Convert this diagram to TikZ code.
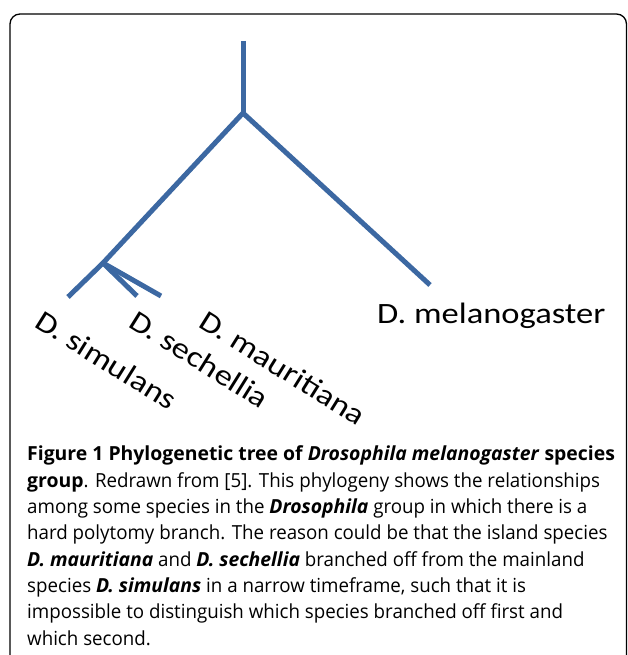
\documentclass[tikz,border=0pt]{standalone}
\usepackage{fontspec}
\setmainfont{Open Sans}[UprightFeatures={FakeStretch=0.965}]
\newfontfamily\labelfont[FakeStretch=1.17]{Carlito}
\usetikzlibrary{positioning}
\definecolor{treeblue}{RGB}{60,104,162}
\tikzset{
    branch/.style={line width=5pt, draw=treeblue},
    taxon/.style={font=\labelfont\fontsize{29.5}{29.5}\selectfont, inner sep=0pt, anchor=base west},
    taxonrot/.style={taxon, rotate=-32},
    panel/.style={draw=black, line width=1.3pt, rounded corners=10pt},
    caption/.style={font=\fontsize{19.4}{26.3}\selectfont, align=left, inner sep=0pt, anchor=base west}
}

\begin{document}
\begin{tikzpicture}[x=1pt, y=-1pt]
    \useasboundingbox (0,0) rectangle (627,655);
    \draw[panel] (10,670) -- (10,14) -- (626.5,14) -- (626.5,670);

    % Tree vertices
    \coordinate (top) at (243,41);
    \coordinate (root) at (243,113);
    \coordinate (simfork) at (103,263);
    \coordinate (simtip) at (68,297);
    \coordinate (sechtip) at (137,296);
    \coordinate (mautip) at (161,296);
    \coordinate (meltip) at (430,285);

    % Branches
    \draw[branch] (top) -- (root);
    \draw[branch] (root) -- (simfork) -- (simtip);
    \draw[branch] (root) -- (meltip);
    \draw[branch] (simfork) -- (sechtip);
    \draw[branch] (simfork) -- (mautip);

    % Species names
    \node[taxonrot] (sim) at (33,326) {D. simulans};
    \node[taxonrot] (sech) at (127,326) {D. sechellia};
    \node[taxonrot] (mau) at (197,326) {D. mauritiana};
    \node[taxon] (mel) at (377,323) {D. melanogaster};

    % Caption (base = last line)
    \node[caption] (cap) at (27,645) {%
        \textbf{Figure 1 Phylogenetic tree of \textit{Drosophila melanogaster} species}\\
        \textbf{group}. Redrawn from [5]. This phylogeny shows the relationships\\
        among some species in the \textbf{\textit{Drosophila}} group in which there is a\\
        hard polytomy branch. The reason could be that the island species\\
        \textbf{\textit{D. mauritiana}} and \textbf{\textit{D. sechellia}} branched off from the mainland\\
        species \textbf{\textit{D. simulans}} in a narrow timeframe, such that it is\\
        impossible to distinguish which species branched off first and\\
        which second.};
\end{tikzpicture}
\end{document}
